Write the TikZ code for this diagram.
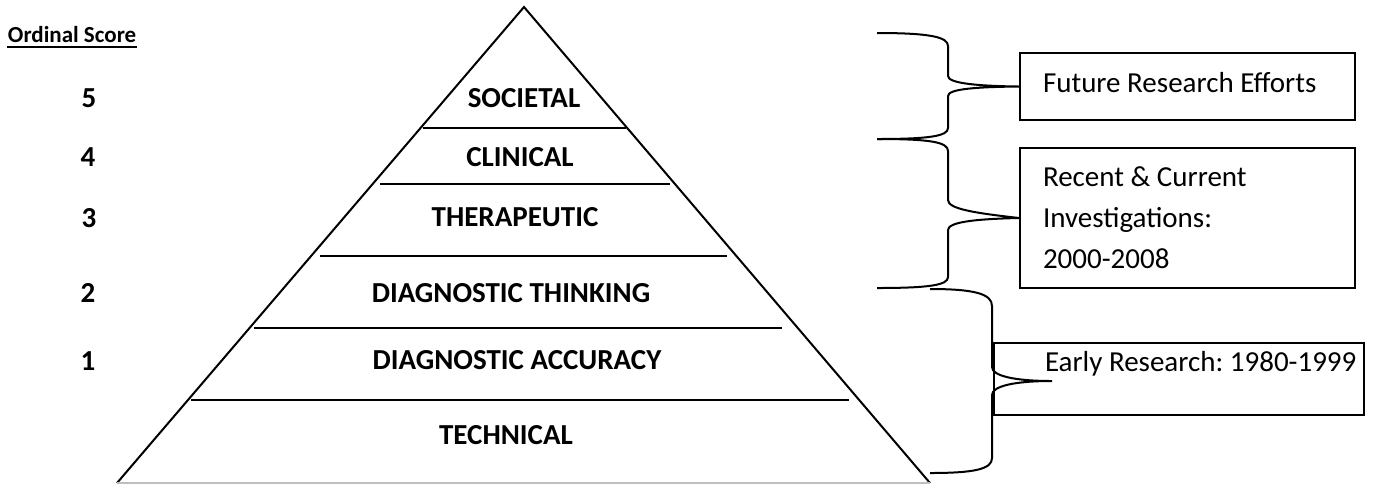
\documentclass[tikz,border=0pt]{standalone}
\usepackage{fontspec}
\setmainfont{Carlito}
\frenchspacing

\begin{document}
\begin{tikzpicture}[x=0.5pt, y=-0.5pt, line width=1pt,
        lvl/.style={font=\fontsize{14.5}{17}\selectfont\bfseries, anchor=base, inner sep=0pt},
        txt/.style={font=\fontsize{14.5}{20.35}\selectfont, anchor=base west, inner sep=0pt, align=left},
        box/.style={draw, inner sep=0pt}]
    \useasboundingbox (0,0) rectangle (1375,484);
    \draw (117,483) -- (524,7) -- (930,483);
    \draw[black!25, line width=0.6pt] (117,483) -- (930,483);
    \draw (423,128) -- (626,128);
    \draw (380,184) -- (670,184);
    \draw (320,256) -- (727,256);
    \draw (254,328) -- (782,328);
    \draw (191,400) -- (849,400);

    \draw (7,42) node[lvl, anchor=base west, font=\fontsize{11.5}{14}\selectfont\bfseries] (ord) {Ordinal Score};
    \draw ([yshift=-2.6pt]ord.base west) -- ([yshift=-2.6pt]ord.base east);
    \draw (89,107) node[lvl] (n5) {5};
    \draw (88,166) node[lvl] (n4) {4};
    \draw (89,227) node[lvl] (n3) {3};
    \draw (88,302) node[lvl] (n2) {2};
    \draw (88,370) node[lvl] (n1) {1};

    \draw (524,107) node[lvl] (soc) {SOCIETAL};
    \draw (520,166) node[lvl] (cli) {CLINICAL};
    \draw (515,226) node[lvl] (ther) {THERAPEUTIC};
    \draw (511,302) node[lvl] (think) {DIAGNOSTIC THINKING};
    \draw (517,369) node[lvl] (acc) {DIAGNOSTIC ACCURACY};
    \draw (506,444) node[lvl] (tech) {TECHNICAL};

    \node[box, minimum width=167.5pt, minimum height=33.5pt] (future) at (1187.5,86.5) {};
    \node[box, minimum width=167.5pt, minimum height=70pt] (recent) at (1187.5,218) {};
    \node[box, minimum width=185pt, minimum height=36pt] (early) at (1179,379) {};
    \draw (1042,92) node[txt] (futuretxt) {Future Research Efforts};
    \draw (1042,268) node[txt] (recenttxt) {Recent \& Current\\Investigations:\\2000-2008};
    \draw (1044,371) node[txt] (earlytxt) {Early Research: 1980-1999};
    \coordinate (tip3) at (1052,381);

    \draw (877,33) .. controls (930,33) and (948,37) .. (948,46) -- (948,76)
        .. controls (948,83) and (975,86) .. (future.west)
        .. controls (975,87) and (948,89) .. (948,96) -- (948,128)
        .. controls (948,136) and (930,139) .. (877,139);
    \draw (877,139) .. controls (930,139) and (948,142) .. (948,151) -- (948,200)
        .. controls (948,209) and (975,213) .. (recent.west)
        .. controls (975,219) and (948,222) .. (948,230) -- (948,277)
        .. controls (948,285) and (930,288) .. (877,288);
    \draw (930,289) .. controls (975,289) and (992,294) .. (992,306) -- (992,367)
        .. controls (992,376) and (1015,381) .. (tip3)
        .. controls (1015,381) and (992,386) .. (992,395) -- (992,458)
        .. controls (992,469) and (975,473) .. (930,473);
\end{tikzpicture}
\end{document}
